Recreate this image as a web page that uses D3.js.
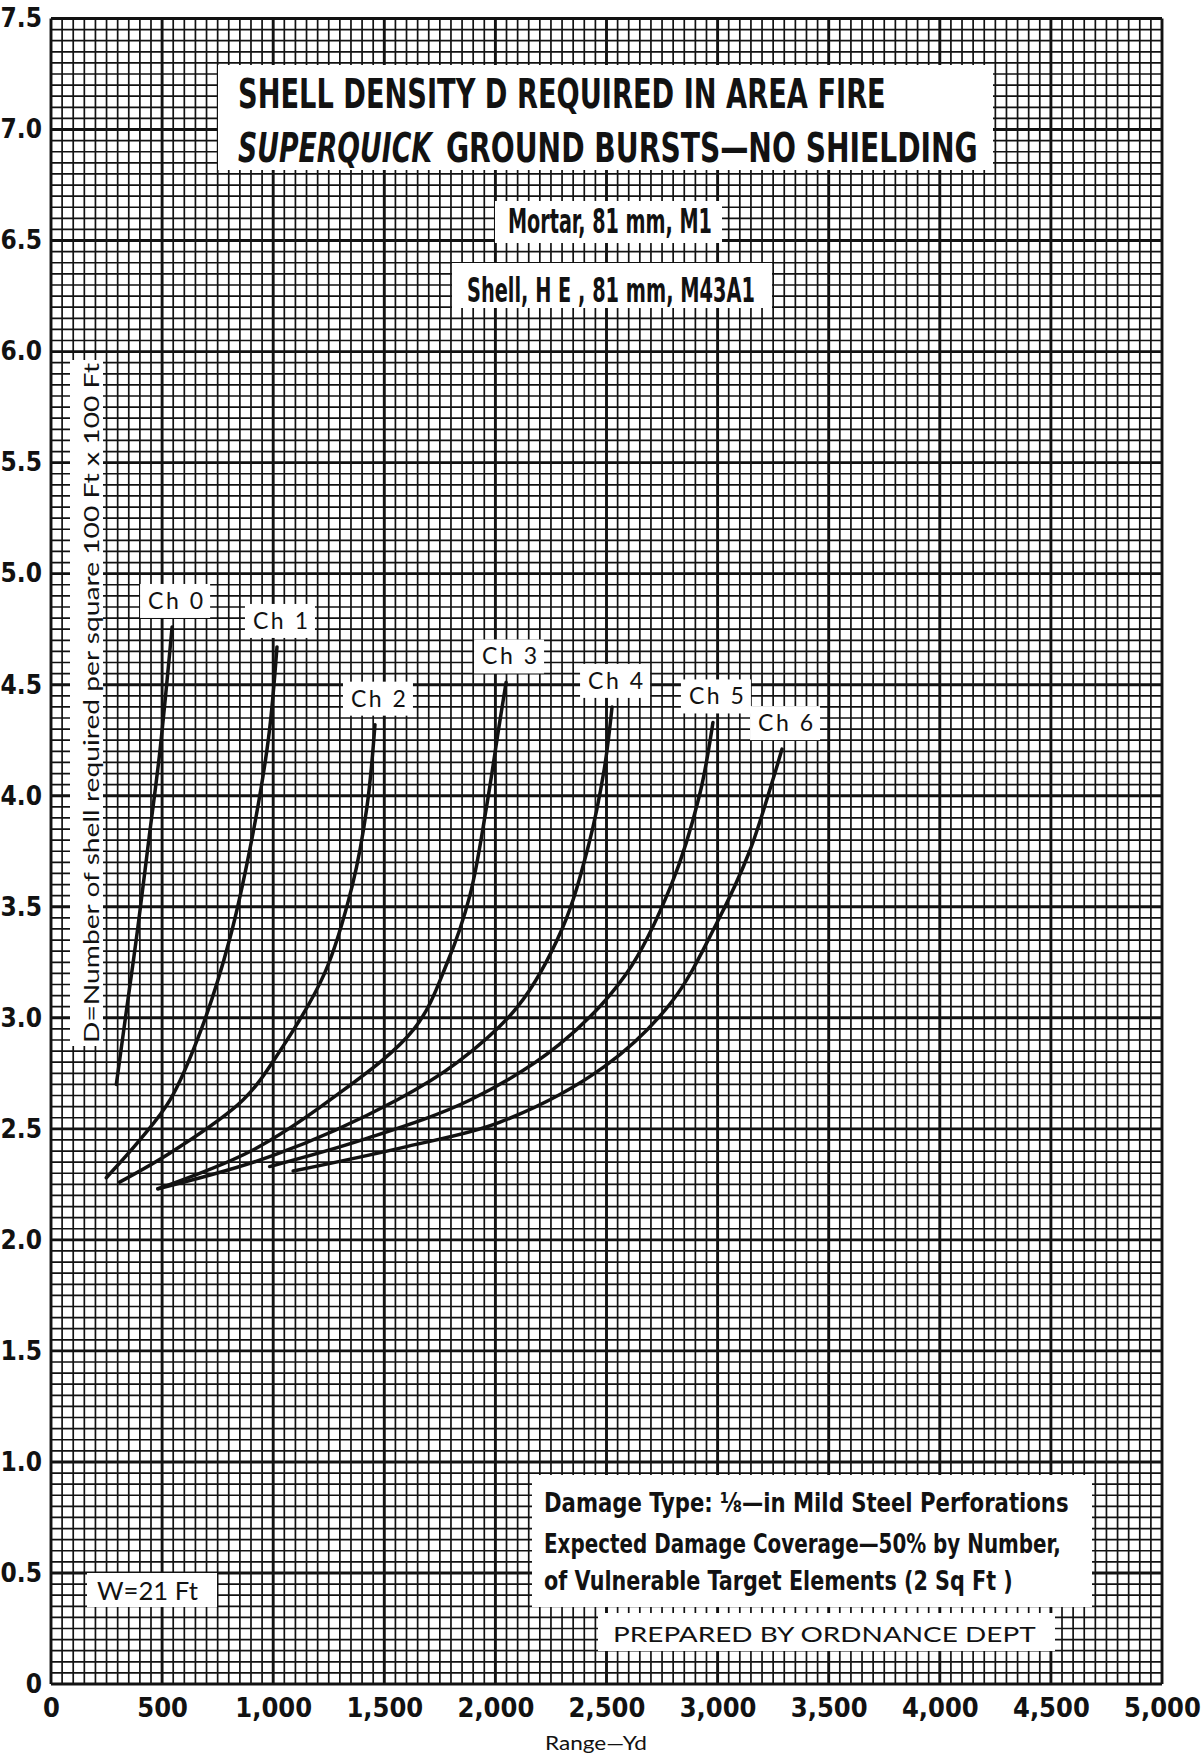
<!DOCTYPE html>
<html>
<head>
<meta charset="utf-8">
<script src="https://cdn.jsdelivr.net/npm/d3@7"></script>
<style>
body { margin: 0; background: #fff; }
svg { display: block; }
</style>
</head>
<body>
<div id="chart"></div>
<script>
// tick values / labels
const xTickValues = [0, 500, 1000, 1500, 2000, 2500, 3000, 3500, 4000, 4500, 5000];
const xTickLabels = ["0", "500", "1,000", "1,500", "2,000", "2,500", "3,000", "3,500", "4,000", "4,500", "5,000"];
const yTickValues = [0, 0.5, 1, 1.5, 2, 2.5, 3, 3.5, 4, 4.5, 5, 5.5, 6, 6.5, 7, 7.5];
const yTickLabels = ["0", "0.5", "1.0", "1.5", "2.0", "2.5", "3.0", "3.5", "4.0", "4.5", "5.0", "5.5", "6.0", "6.5", "7.0", "7.5"];

// charges (range yd, density D)
const chargeNames = ["Ch 0", "Ch 1", "Ch 2", "Ch 3", "Ch 4", "Ch 5", "Ch 6"];
const ch0 = [[294, 2.70], [335, 3.0], [390, 3.4], [440, 3.8], [490, 4.2], [545, 4.76]];
const ch1 = [[249, 2.28], [400, 2.45], [536, 2.63], [677, 2.95], [803, 3.35], [903, 3.80], [979, 4.26], [1017, 4.67]];
const ch2 = [[309, 2.26], [550, 2.40], [864, 2.63], [1030, 2.85], [1231, 3.20], [1357, 3.60], [1422, 3.95], [1458, 4.32]];
const ch3 = [[481, 2.23], [900, 2.40], [1256, 2.63], [1634, 2.95], [1784, 3.25], [1885, 3.55], [1960, 3.95], [2016, 4.31], [2048, 4.51]];
const ch4 = [[481, 2.23], [1000, 2.38], [1557, 2.63], [1830, 2.80], [2100, 3.05], [2300, 3.40], [2420, 3.78], [2490, 4.12], [2525, 4.40]];
const ch5 = [[984, 2.33], [1400, 2.45], [1886, 2.63], [2288, 2.88], [2590, 3.20], [2792, 3.60], [2918, 4.0], [2979, 4.33]];
const ch6 = [[1090, 2.31], [1600, 2.42], [2021, 2.53], [2490, 2.78], [2792, 3.07], [2993, 3.42], [3144, 3.75], [3245, 4.06], [3290, 4.21]];

const W = 1203, H = 1755;
const margin = {top: 18.5, right: 41, bottom: 71, left: 51};

const narrow = '"Liberation Sans Narrow", "DejaVu Sans Condensed", "Liberation Sans", sans-serif';
const round = 'Lato, "Noto Sans", "DejaVu Sans", sans-serif';
const ink = "#121212";

const svg = d3.select("#chart").append("svg")
    .attr("width", W)
    .attr("height", H)
    .style("background", "#fff");

const x = d3.scaleLinear().domain([0, 5000]).range([margin.left, W - margin.right]);
const y = d3.scaleLinear().domain([0, 7.5]).range([H - margin.bottom, margin.top]);

// graph paper grid: 50 yd x 0.05 cells, heavy every 500 yd / 0.5
const grid = svg.append("g");
grid.selectAll(".vx")
    .data(d3.range(0, 101))
    .enter().append("line")
    .attr("x1", i => x(i * 50)).attr("x2", i => x(i * 50))
    .attr("y1", y(0)).attr("y2", y(7.5))
    .attr("stroke", ink)
    .attr("stroke-width", i => i % 10 === 0 ? 2.9 : 1.7);
grid.selectAll(".hy")
    .data(d3.range(0, 151))
    .enter().append("line")
    .attr("y1", i => y(i * 0.05)).attr("y2", i => y(i * 0.05))
    .attr("x1", x(0)).attr("x2", x(5000))
    .attr("stroke", ink)
    .attr("stroke-width", i => i % 10 === 0 ? 2.9 : 1.7);

// axes
const xAxis = d3.axisBottom(x).tickValues(xTickValues).tickFormat((d, i) => xTickLabels[i]).tickSize(0).tickPadding(14);
const gx = svg.append("g").attr("transform", "translate(0," + y(0) + ")").call(xAxis);
gx.select(".domain").remove();
gx.selectAll("text").style("font-family", narrow).style("font-weight", "bold").style("font-size", "27px").attr("fill", ink);

const yAxis = d3.axisLeft(y).tickValues(yTickValues).tickFormat((d, i) => yTickLabels[i]).tickSize(0).tickPadding(9);
const gy = svg.append("g").attr("transform", "translate(" + x(0) + ",0)").call(yAxis);
gy.select(".domain").remove();
gy.selectAll("text").style("font-family", narrow).style("font-weight", "bold").style("font-size", "26px").attr("fill", ink);

function whiteBox(x0, y0, x1, y1) {
    svg.append("rect").attr("x", x0).attr("y", y0).attr("width", x1 - x0).attr("height", y1 - y0).attr("fill", "#fff");
}
// squeeze a text horizontally so it spans len px starting at tx
function label(str, tx, ty, len, size, family, weight, italic) {
    const t = svg.append("text")
        .attr("x", 0).attr("y", 0)
        .style("font-family", family).style("font-weight", weight || "normal")
        .style("font-style", italic ? "italic" : "normal")
        .style("font-size", size + "px").attr("fill", ink)
        .text(str);
    const natural = t.node().getComputedTextLength() || len;
    t.attr("transform", "translate(" + tx + "," + ty + ") scale(" + (len / natural) + ",1)");
    return t;
}

// title block
whiteBox(218, 65, 993, 170);
label("SHELL DENSITY D REQUIRED IN AREA FIRE", 238, 108, 648, 40, narrow, "bold");
label("SUPERQUICK", 238, 162, 194, 40, narrow, "bold", true);
label("GROUND BURSTS\u2014NO SHIELDING", 446, 162, 532, 40, narrow, "bold");

whiteBox(495, 201, 722, 243);
label("Mortar, 81 mm, M1", 508, 233, 204, 34, narrow, "bold");
whiteBox(452, 263, 772, 308);
label("Shell, H E , 81 mm, M43A1", 467, 302, 288, 34, narrow, "bold");

// y axis title
whiteBox(70, 360, 103, 1046);
svg.append("text")
    .attr("transform", "translate(99,1043) rotate(-90)")
    .attr("textLength", 680).attr("lengthAdjust", "spacingAndGlyphs")
    .style("font-family", round).style("font-size", "21px").attr("fill", ink)
    .text("D=Number of shell  required per square 100 Ft  x 100 Ft");

// notes
whiteBox(532, 1475, 1092, 1607);
label("Damage Type: \u215B\u2014in  Mild Steel Perforations", 544, 1512, 525, 27, narrow, "bold");
label("Expected Damage Coverage\u201450% by Number,", 544, 1553, 517, 27, narrow, "bold");
label("of Vulnerable Target Elements (2 Sq  Ft )", 544, 1590, 469, 27, narrow, "bold");

whiteBox(598, 1613, 1055, 1651);
label("PREPARED BY ORDNANCE DEPT", 613, 1642, 423, 22, round, "normal");

whiteBox(87, 1573, 217, 1607);
label("W=21 Ft", 97, 1600, 101, 25, round, "normal");

label("Range\u2014Yd", 545, 1750, 102, 20, round, "normal");

// charge curves and their tags
const charges = [ch0, ch1, ch2, ch3, ch4, ch5, ch6];
const line = d3.line().x(d => x(d[0])).y(d => y(d[1])).curve(d3.curveCatmullRom.alpha(0.5));

charges.forEach((pts, i) => {
    const top = pts[pts.length - 1];
    const cx = x(top[0]) + 3, cy = y(top[1]) - 26;
    whiteBox(cx - 35, cy - 17, cx + 35, cy + 17);
    svg.append("text")
        .attr("x", cx - 27).attr("y", cy + 8)
        .attr("textLength", 55).attr("lengthAdjust", "spacing")
        .style("font-family", round).style("font-size", "23px").attr("fill", ink)
        .text(chargeNames[i]);
});

svg.selectAll(".curve")
    .data(charges)
    .enter().append("path")
    .attr("d", line)
    .attr("fill", "none")
    .attr("stroke", ink)
    .attr("stroke-width", 3.5)
    .attr("stroke-linecap", "round");
</script>
</body>
</html>
